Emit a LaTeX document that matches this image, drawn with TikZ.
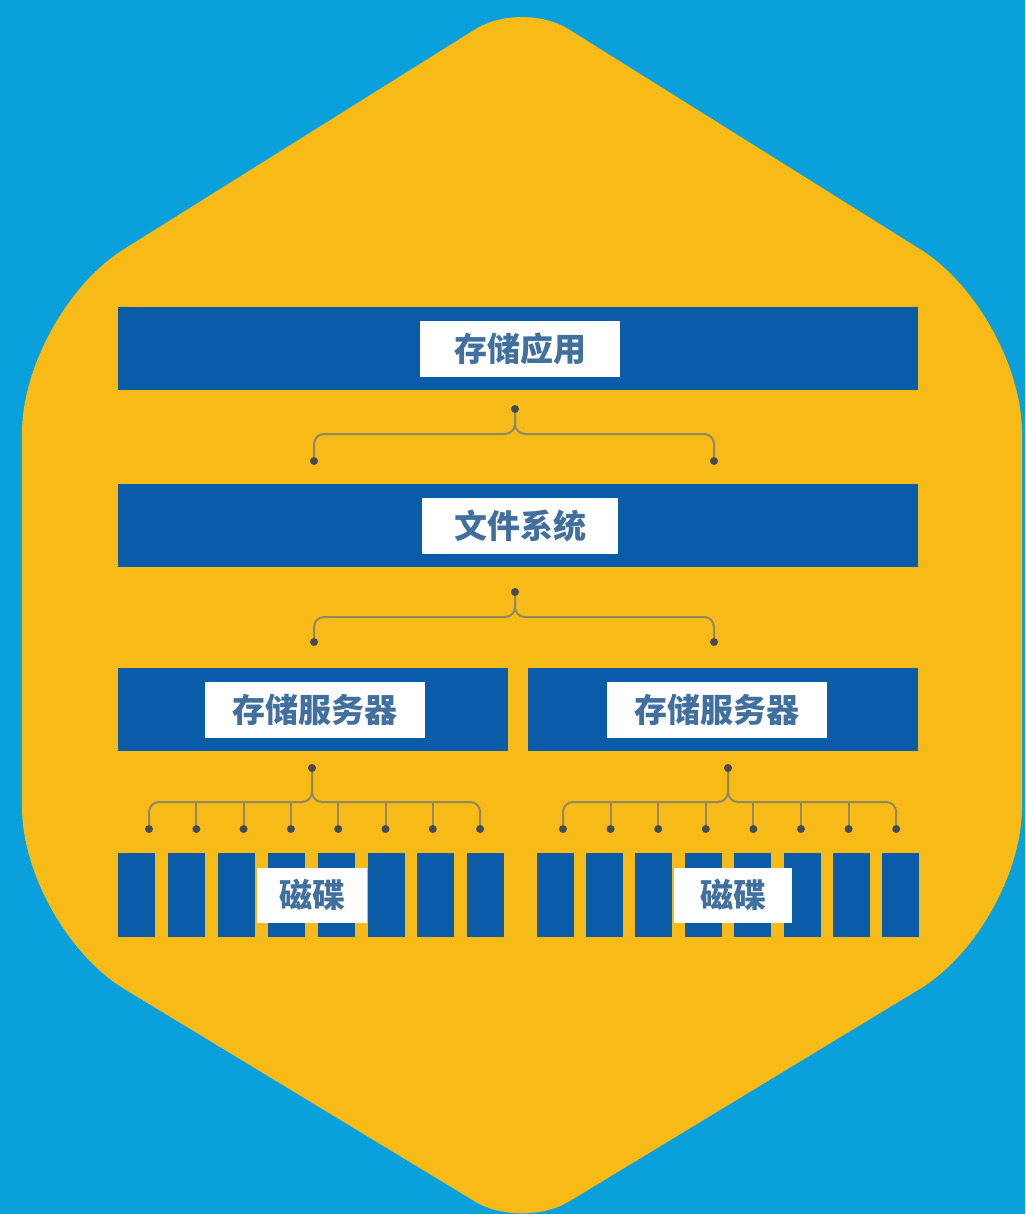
\documentclass[tikz,border=0pt]{standalone}
\usepackage{fontspec}
\newfontfamily\cjk{Noto Sans CJK SC}
\definecolor{skyblue}{HTML}{0AA0DC}
\definecolor{hexgold}{HTML}{F8BA17}
\definecolor{barblue}{HTML}{0A5CA8}
\definecolor{tagtext}{HTML}{41709F}
\definecolor{wire}{HTML}{8F8964}
\definecolor{dotgray}{HTML}{434B58}

\begin{document}
\begin{tikzpicture}[x=1pt,y=-1pt,
    bar/.style={fill=barblue, inner sep=0pt, minimum height=83pt},
    disk/.style={fill=barblue, inner sep=0pt, minimum width=37pt, minimum height=84pt},
    tag/.style={fill=white, text=tagtext, inner sep=0pt, minimum height=56pt,
      font={\cjk\bfseries\fontsize{33}{33}\selectfont}},
    pin/.style={circle, fill=dotgray, inner sep=0pt, minimum size=8pt},
    link/.style={draw=wire, line width=2pt, rounded corners=10pt}]
    \useasboundingbox (0,0) rectangle (1025,1214);
    \fill [skyblue] (0,0) rectangle (1025,1214);
    \fill [hexgold] [rounded corners=120pt] (22,620) -- (22,313)
        [rounded corners=55pt] -- (522,0)
        [rounded corners=120pt] -- (1022,313) -- (1022,927)
        [rounded corners=55pt] -- (522,1230)
        [rounded corners=120pt] -- (22,927) -- cycle;

    % layers
    \node [bar, minimum width=800pt] (app) at (518,348) {};
    \node [tag, minimum width=200pt] (applbl) at (520,349) {存储应用};
    \node [bar, minimum width=800pt] (fs) at (518,525) {};
    \node [tag, minimum width=196pt] (fslbl) at (520,526) {文件系统};
    \node [bar, minimum width=390pt] (srvA) at (313,709) {};
    \node [tag, minimum width=220pt] (srvAlbl) at (315,710) {存储服务器};
    \node [bar, minimum width=390pt] (srvB) at (723,709) {};
    \node [tag, minimum width=220pt] (srvBlbl) at (717,710) {存储服务器};

    % disks
    \foreach \i in {0,...,7} {
        \node [disk] (dA\i) at ({136.5+49.9*\i},895) {};
        \node [disk] (dB\i) at ({555+49.4*\i},895) {};
    }
    \node [tag, minimum width=110pt, minimum height=55pt] (dAlbl) at (312,895) {磁碟};
    \node [tag, minimum width=118pt, minimum height=55pt] (dBlbl) at (733,895) {磁碟};

    % app -> fs
    \node [pin] (p1) at (515,409) {};
    \node [pin] (p1L) at (314,461) {};
    \node [pin] (p1R) at (714,461) {};
    \coordinate (j1) at (515,434);
    \draw [link] (p1) -- (j1) -| (p1L);
    \draw [link] (p1) -- (j1) -| (p1R);

    % fs -> servers
    \node [pin] (p2) at (515,592) {};
    \node [pin] (p2L) at (314,642) {};
    \node [pin] (p2R) at (714,642) {};
    \coordinate (j2) at (515,617);
    \draw [link] (p2) -- (j2) -| (p2L);
    \draw [link] (p2) -- (j2) -| (p2R);

    % servers -> disks
    \node [pin] (pA) at (312,768) {};
    \node [pin] (pB) at (728,768) {};
    \coordinate (jA) at (312,802);
    \coordinate (jB) at (728,802);
    \foreach \i in {0,...,7} {
        \node [pin] (qA\i) at ({149+47.3*\i},829) {};
        \node [pin] (qB\i) at ({563+47.6*\i},829) {};
    }
    \draw [link] (pA) -- (jA) -| (qA0);
    \draw [link] (pA) -- (jA) -| (qA7);
    \draw [link] (pB) -- (jB) -| (qB0);
    \draw [link] (pB) -- (jB) -| (qB7);
    \foreach \i in {1,...,6} {
        \draw [link] (qA\i |- jA) -- (qA\i);
        \draw [link] (qB\i |- jB) -- (qB\i);
    }
\end{tikzpicture}
\end{document}
